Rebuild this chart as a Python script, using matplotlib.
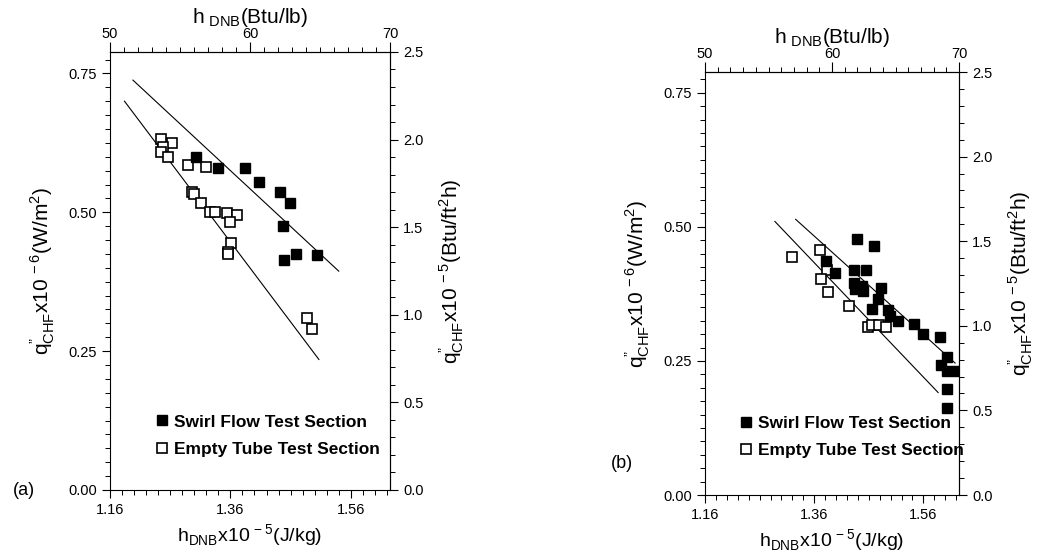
import numpy as np
import matplotlib
matplotlib.use("Agg")
import matplotlib.pyplot as plt
from matplotlib.ticker import MultipleLocator, FixedLocator
from matplotlib.lines import Line2D

plt.rcParams['font.family'] = ['Liberation Sans', 'DejaVu Sans']
plt.rcParams['mathtext.fontset'] = 'custom'
plt.rcParams['mathtext.rm'] = 'Liberation Sans'

# data, h in J/kg x1e-5, q in MW/m^2
# panel (a)
a_swirl_h = [1.303, 1.339, 1.385, 1.408, 1.443, 1.459, 1.447, 1.449, 1.469, 1.504]
a_swirl_q = [0.600, 0.579, 0.579, 0.555, 0.537, 0.517, 0.475, 0.414, 0.425, 0.423]
a_empty_h = [1.245, 1.263, 1.248, 1.245, 1.257, 1.289, 1.319, 1.297, 1.300, 1.311,
             1.326, 1.334, 1.354, 1.371, 1.359, 1.361, 1.356, 1.356, 1.487, 1.496]
a_empty_q = [0.632, 0.624, 0.618, 0.609, 0.599, 0.585, 0.581, 0.537, 0.533, 0.516,
             0.501, 0.500, 0.498, 0.496, 0.483, 0.445, 0.429, 0.425, 0.309, 0.290]
a_fit_swirl_h = [1.198, 1.540]
a_fit_swirl_q = [0.738, 0.394]
a_fit_empty_h = [1.184, 1.507]
a_fit_empty_q = [0.700, 0.235]

# panel (b)
b_swirl_h = [1.438, 1.469, 1.382, 1.398, 1.433, 1.454, 1.432, 1.447, 1.435, 1.449,
             1.482, 1.476, 1.465, 1.496, 1.499, 1.514, 1.542, 1.560, 1.590, 1.603,
             1.593, 1.604, 1.622, 1.604, 1.604]
b_swirl_q = [0.478, 0.465, 0.437, 0.414, 0.419, 0.420, 0.396, 0.390, 0.384, 0.381,
             0.386, 0.366, 0.347, 0.345, 0.334, 0.325, 0.319, 0.300, 0.295, 0.258,
             0.242, 0.231, 0.231, 0.198, 0.162]
b_empty_h = [1.319, 1.371, 1.384, 1.372, 1.386, 1.423, 1.458, 1.465, 1.479, 1.491]
b_empty_q = [0.444, 0.457, 0.420, 0.402, 0.379, 0.353, 0.313, 0.317, 0.317, 0.314]
b_fit_swirl_h = [1.326, 1.618]
b_fit_swirl_q = [0.514, 0.246]
b_fit_empty_h = [1.288, 1.587]
b_fit_empty_q = [0.510, 0.191]

x_ticks = [1.16, 1.36, 1.56]
y_ticks = [0.00, 0.25, 0.50, 0.75]
btu_ticks = [50, 60, 70]
q_btu_ticks = [0.0, 0.5, 1.0, 1.5, 2.0, 2.5]

h_min = 1.16
h_max = h_min + 20 * 0.02326   # 50..70 Btu/lb
q_max = 2.5 / 3.17             # 2.5e5 Btu/ft2h in MW/m^2


def to_btu(x):
    return 50 + (x - h_min) / 0.02326


def from_btu(x):
    return h_min + (x - 50) * 0.02326


def to_qbtu(y):
    return y * 3.17


def from_qbtu(y):
    return y / 3.17


qlab = 'q$^{\u201d}_{\\mathregular{CHF}}$'


def panel(rect, sh, sq, eh, eq, fsh, fsq, feh, feq, ms, leg_anchor, tag, tag_xy):
    ax = fig.add_axes(rect)
    ax.plot(fsh, fsq, color='black', lw=0.8)
    ax.plot(feh, feq, color='black', lw=0.8)
    ax.plot(eh, eq, 's', ms=ms, mfc='white', mec='black', mew=1.2, ls='none')
    ax.plot(sh, sq, 's', ms=ms, mfc='black', mec='black', ls='none')
    ax.set_xlim(h_min, h_max)
    ax.set_ylim(0, q_max)

    ax.xaxis.set_major_locator(FixedLocator(x_ticks))
    ax.xaxis.set_minor_locator(MultipleLocator(0.02))
    ax.yaxis.set_major_locator(FixedLocator(y_ticks))
    ax.yaxis.set_minor_locator(MultipleLocator(0.025))
    ax.set_xticklabels(['%.2f' % t for t in x_ticks])
    ax.set_yticklabels(['%.2f' % t for t in y_ticks])
    ax.tick_params(which='major', direction='out', length=6, width=0.8, labelsize=10.5)
    ax.tick_params(which='minor', direction='out', length=3.5, width=0.7)
    ax.set_xlabel(r'h$_{\mathregular{DNB}}$x10$^{\mathregular{\,-5}}$(J/kg)', fontsize=14, labelpad=4)
    ax.set_ylabel(qlab + r'x10$^{\mathregular{\,-6}}$(W/m$^{\mathregular{2}}$)',
                  fontsize=15, labelpad=8)

    top = ax.secondary_xaxis('top', functions=(to_btu, from_btu))
    top.xaxis.set_major_locator(FixedLocator(btu_ticks))
    top.xaxis.set_minor_locator(MultipleLocator(1))
    top.tick_params(which='major', direction='out', length=7, width=0.8, labelsize=10.5, pad=1)
    top.tick_params(which='minor', direction='out', length=3.5, width=0.7)
    top.set_xlabel(r'h$_{\mathregular{\ DNB}}$(Btu/lb)', fontsize=15, labelpad=3)

    right = ax.secondary_yaxis('right', functions=(to_qbtu, from_qbtu))
    right.yaxis.set_major_locator(FixedLocator(q_btu_ticks))
    right.yaxis.set_minor_locator(MultipleLocator(0.1))
    right.set_yticklabels(['%.1f' % t for t in q_btu_ticks])
    right.tick_params(which='major', direction='out', length=6, width=0.8, labelsize=10.5)
    right.tick_params(which='minor', direction='out', length=3.5, width=0.7)
    right.set_ylabel(qlab + r'x10$^{\mathregular{\,-5}}$(Btu/ft$^{\mathregular{2}}$h)',
                     fontsize=15, labelpad=10)

    handles = [Line2D([], [], marker='s', ms=ms, mfc='black', mec='black', ls='none'),
               Line2D([], [], marker='s', ms=ms, mfc='white', mec='black', mew=1.2, ls='none')]
    ax.legend(handles, ['Swirl Flow Test Section', 'Empty Tube Test Section'],
              loc='lower left', bbox_to_anchor=leg_anchor, frameon=False,
              handlelength=0.6, handletextpad=0.4, labelspacing=0.7,
              prop={'size': 12.5, 'weight': 'bold'})
    fig.text(tag_xy[0], tag_xy[1], tag, fontsize=13, ha='left', va='center')
    return ax


fig = plt.figure(figsize=(10.44, 5.57), dpi=100)

panel([0.1054, 0.1203, 0.2682, 0.7864],
      a_swirl_h, a_swirl_q, a_empty_h, a_empty_q,
      a_fit_swirl_h, a_fit_swirl_q, a_fit_empty_h, a_fit_empty_q,
      7.5, (0.11, 0.04), '(a)', (0.012, 0.12))

panel([0.6753, 0.1113, 0.2433, 0.7594],
      b_swirl_h, b_swirl_q, b_empty_h, b_empty_q,
      b_fit_swirl_h, b_fit_swirl_q, b_fit_empty_h, b_fit_empty_q,
      7, (0.08, 0.05), '(b)', (0.585, 0.168))

fig.savefig('out.png', dpi=100)
